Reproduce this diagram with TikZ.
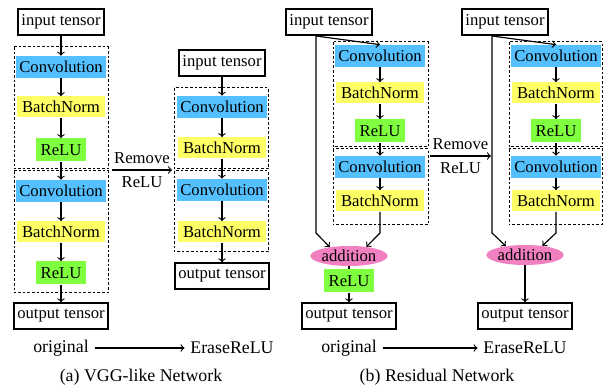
\documentclass[tikz,border=0pt]{standalone}
\usepackage{fontspec}
\setmainfont{Liberation Serif}
\usetikzlibrary{positioning,shapes.geometric}
\definecolor{convblue}{RGB}{85,192,255}
\definecolor{bnyellow}{RGB}{255,255,102}
\definecolor{relugreen}{RGB}{128,255,64}
\definecolor{addpink}{RGB}{240,128,192}
\begin{document}
\begin{tikzpicture}[x=0.6pt,y=-0.6pt,font=\fontsize{10}{12}\selectfont,
 tensor/.style={draw,line width=0.8pt,minimum height=15.6pt,inner xsep=2pt,inner ysep=0pt},
 conv/.style={fill=convblue,minimum width=54pt,minimum height=13.2pt,inner sep=0pt},
 bn/.style={fill=bnyellow,minimum width=52.8pt,minimum height=12.6pt,inner sep=0pt},
 relu/.style={fill=relugreen,minimum width=30pt,minimum height=13.8pt,inner sep=0pt},
 addnode/.style={ellipse,fill=addpink,minimum width=44.4pt,minimum height=12pt,inner sep=0pt},
 block/.style={dash pattern=on 1.6pt off 1.2pt,line width=0.6pt},
 flow/.style={->,line width=0.7pt},
 big/.style={font=\fontsize{10.7}{12}\selectfont}]
\useasboundingbox (0,0) rectangle (603,387);
% (a) VGG-like, original
\node[tensor] (in1) at (61,22) {input tensor};
\node[conv] (c11) at (61,67) {Convolution};
\node[bn] (b11) at (61,107) {BatchNorm};
\node[relu] (r11) at (61,150) {ReLU};
\node[conv] (c12) at (61,191) {Convolution};
\node[bn] (b12) at (61,232) {BatchNorm};
\node[relu] (r12) at (61,273) {ReLU};
\node[tensor] (out1) at (61,316) {output tensor};
\draw[block] (14,47) rectangle (108,169);
\draw[block] (14,171) rectangle (108,293);
\foreach \a/\b in {in1/c11,c11/b11,b11/r11,r11/c12,c12/b12,b12/r12,r12/out1}
 \draw[flow] (\a) -- (\b);
% (a) VGG-like, EraseReLU
\node[tensor] (in2) at (222,63) {input tensor};
\node[conv] (c21) at (222,107) {Convolution};
\node[bn] (b21) at (222,148) {BatchNorm};
\node[conv] (c22) at (222,190) {Convolution};
\node[bn] (b22) at (222,232) {BatchNorm};
\node[tensor] (out2) at (222,276) {output tensor};
\draw[block] (174,88) rectangle (268,169);
\draw[block] (174,171) rectangle (268,252);
\foreach \a/\b in {in2/c21,c21/b21,b21/c22,c22/b22,b22/out2}
 \draw[flow] (\a) -- (\b);
\coordinate (rmA) at (112,170);
\coordinate (rmB) at (172,170);
\draw[flow] (rmA) -- node[above] {Remove} node[below] {ReLU} (rmB);
\node[big] (orig1) at (61,348) {original};
\node[big] (erase1) at (232,348) {EraseReLU};
\draw[flow] (orig1) -- (erase1);
\node[big] (capA) at (141,377) {(a) VGG-like Network};
% (b) Residual, original
\node[tensor] (in3) at (329,22) {input tensor};
\node[conv] (c31) at (380,56) {Convolution};
\node[bn] (b31) at (380,93) {BatchNorm};
\node[relu] (r31) at (380,131) {ReLU};
\node[conv] (c32) at (380,167) {Convolution};
\node[bn] (b32) at (380,201) {BatchNorm};
\node[addnode] (add3) at (349,256) {addition};
\node[relu] (r33) at (349,281) {ReLU};
\node[tensor] (out3) at (349,316) {output tensor};
\draw[block] (333,42) rectangle (428,147);
\draw[block] (333,149) rectangle (428,225);
\coordinate (sk3) at (316,36);
\coordinate (j3a) at (316,233);
\coordinate (j3b) at (380,233);
\draw[flow] (sk3) -- (c31.north);
\foreach \a/\b in {c31/b31,b31/r31,r31/c32,c32/b32,r33/out3}
 \draw[flow] (\a) -- (\b);
\draw[flow] (sk3) -- (j3a) -- (add3.155);
\draw[flow] (b32) -- (j3b) -- (add3.28);
\draw[line width=0.7pt] (add3) -- (r33);
% (b) Residual, EraseReLU
\node[tensor] (in4) at (505,22) {input tensor};
\node[conv] (c41) at (556,56) {Convolution};
\node[bn] (b41) at (556,93) {BatchNorm};
\node[relu] (r41) at (556,131) {ReLU};
\node[conv] (c42) at (556,167) {Convolution};
\node[bn] (b42) at (556,201) {BatchNorm};
\node[addnode] (add4) at (525,255) {addition};
\node[tensor] (out4) at (525,316) {output tensor};
\draw[block] (509,42) rectangle (602,147);
\draw[block] (509,149) rectangle (602,225);
\coordinate (sk4) at (492,36);
\coordinate (j4a) at (492,233);
\coordinate (j4b) at (556,233);
\draw[flow] (sk4) -- (c41.north);
\foreach \a/\b in {c41/b41,b41/r41,r41/c42,c42/b42,add4/out4}
 \draw[flow] (\a) -- (\b);
\draw[flow] (sk4) -- (j4a) -- (add4.155);
\draw[flow] (b42) -- (j4b) -- (add4.28);
\coordinate (rmC) at (430,156);
\coordinate (rmD) at (491,156);
\draw[flow] (rmC) -- node[above] {Remove} node[below] {ReLU} (rmD);
\node[big] (orig2) at (349,348) {original};
\node[big] (erase2) at (525,348) {EraseReLU};
\draw[flow] (orig2) -- (erase2);
\node[big] (capB) at (437,377) {(b) Residual Network};
\end{tikzpicture}
\end{document}
